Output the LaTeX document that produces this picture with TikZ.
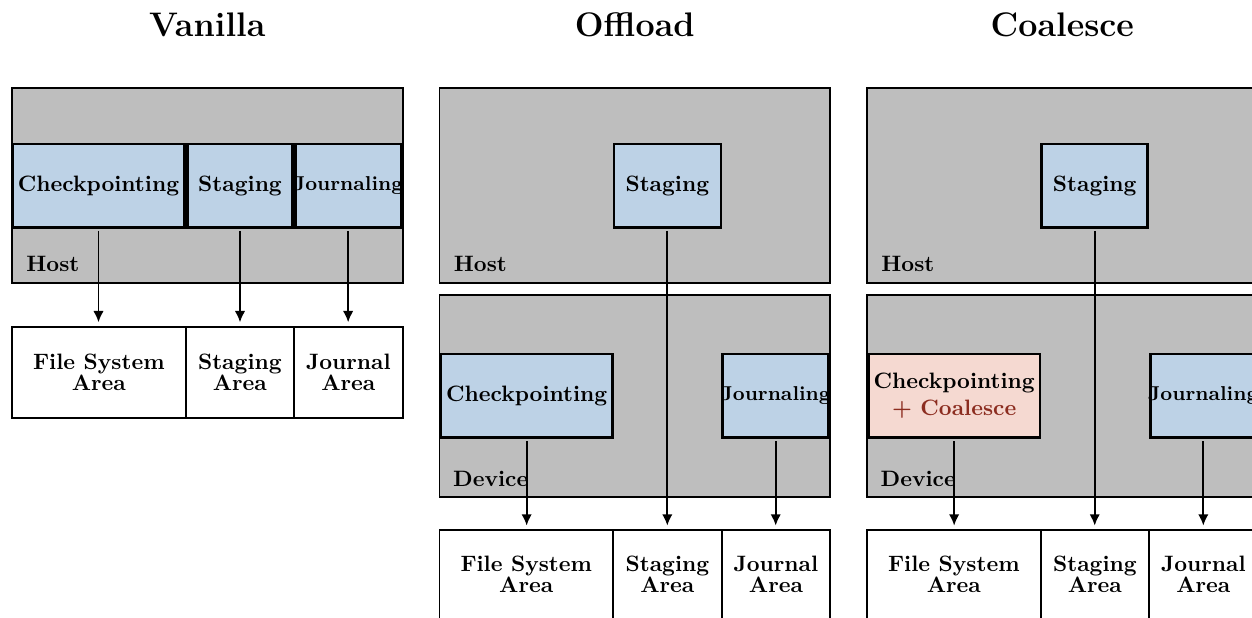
\documentclass[tikz,border=0pt]{standalone}
\usetikzlibrary{fit,arrows.meta}
\definecolor{boxgray}{RGB}{190,190,190}
\definecolor{boxblue}{RGB}{189,210,230}
\definecolor{boxpink}{RGB}{245,217,209}
\definecolor{cored}{RGB}{140,45,32}
\begin{document}
\begin{tikzpicture}[x=0.458pt,y=-0.458pt,
  every node/.style={font=\fontsize{10.2}{12.3}\selectfont\bfseries},
  area/.style={draw=black, thick, fill=boxgray, inner sep=0pt, fit={#1}},
  proc/.style={draw=black, very thick, fill=boxblue, inner sep=0pt, fit={#1}},
  cproc/.style={draw=black, very thick, fill=boxpink, inner sep=0pt, fit={#1}},
  store/.style={draw=black, thick, fill=white, inner sep=0pt, fit={#1}},
  txt/.style={inner sep=0pt, align=center},
  small/.style={font=\fontsize{9.2}{11}\selectfont\bfseries},
  title/.style={font=\fontsize{15.6}{19}\selectfont\bfseries, anchor=base},
  lbl/.style={anchor=base west, inner sep=0pt},
  arr/.style={line width=0.9pt, -{Latex[length=5.2pt,width=4.8pt]}, shorten <=1pt, shorten >=1.6pt}]
\useasboundingbox (0,0) rectangle (1252,617);
\clip (0,0) rectangle (1252,617);

% titles
\node[title] (tv) at (207.3,36) {Vanilla};
\node[title] (to) at (634.8,36) {Offload};
\node[title] (tc) at (1062.3,36) {Coalesce};

% ---------------- Vanilla ----------------
\node[area={(12,88.3) (402.7,283.3)}] (vhost) {};
\node[proc={(12.7,144) (184.3,227.3)}] (vck) {};
\node[proc={(187.3,144) (292.7,227.3)}] (vst) {};
\node[proc={(295.3,144) (401,227.3)}] (vjo) {};
\node[txt] (vckt) at (vck.center) {Checkpointing};
\node[txt] (vstt) at (vst.center) {Staging};
\node[txt, small] (vjot) at (vjo.center) {Journaling};
\node[lbl] (vhl) at (26,271.7) {Host};
\node[store={(12,326.7) (185.7,418.3)}] (vfs) {};
\node[store={(185.7,326.7) (294,418.3)}] (vsa) {};
\node[store={(294,326.7) (402.7,418.3)}] (vja) {};
\node[txt] (vfst) at (vfs.center) {File System\\[-2.8pt]Area};
\node[txt] (vsat) at (vsa.center) {Staging\\[-2.8pt]Area};
\node[txt] (vjat) at (vja.center) {Journal\\[-2.8pt]Area};
\draw[arr] (vck.south) -- (vck.south |- vfs.north);
\draw[arr] (vst.south) -- (vst.south |- vsa.north);
\draw[arr] (vjo.south) -- (vjo.south |- vja.north);

% ---------------- Offload ----------------
\node[area={(439.5,88.3) (830.2,283.3)}] (ohost) {};
\node[proc={(613.8,144) (720.8,227.3)}] (ost) {};
\node[txt] (ostt) at (ost.center) {Staging};
\node[lbl] (ohl) at (453.5,271.7) {Host};
\node[area={(439.5,295) (830.2,497.3)}] (odev) {};
\node[proc={(441,354) (612.3,437.7)}] (ock) {};
\node[proc={(722.7,354) (828.7,437.7)}] (ojo) {};
\node[txt] (ockt) at (ock.center) {Checkpointing};
\node[txt, small] (ojot) at (ojo.center) {Journaling};
\node[lbl] (odl) at (452.7,486) {Device};
\node[store={(439.5,530) (613,619)}] (ofs) {};
\node[store={(613,530) (721.7,619)}] (osa) {};
\node[store={(721.7,530) (830.2,619)}] (oja) {};
\node[txt] (ofst) at (ofs.center) {File System\\[-2.8pt]Area};
\node[txt] (osat) at (osa.center) {Staging\\[-2.8pt]Area};
\node[txt] (ojat) at (oja.center) {Journal\\[-2.8pt]Area};
\draw[arr] (ock.south) -- (ock.south |- ofs.north);
\draw[arr] (ost.south) -- (ost.south |- osa.north);
\draw[arr] (ojo.south) -- (ojo.south |- oja.north);

% ---------------- Coalesce ----------------
\node[area={(867,88.3) (1257.7,283.3)}] (chost) {};
\node[proc={(1041.7,144) (1147.7,227.3)}] (cst) {};
\node[txt] (cstt) at (cst.center) {Staging};
\node[lbl] (chl) at (881,271.7) {Host};
\node[area={(867,295) (1257.7,497.3)}] (cdev) {};
\node[cproc={(868.3,354) (1040,437.7)}] (cck) {};
\node[proc={(1150.3,354) (1256.3,437.7)}] (cjo) {};
\node[txt] (cckt) at (cck.center) {Checkpointing\\\textcolor{cored}{+ Coalesce}};
\node[txt, small] (cjot) at (cjo.center) {Journaling};
\node[lbl] (cdl) at (880.2,486) {Device};
\node[store={(867,530) (1040.7,619)}] (cfs) {};
\node[store={(1040.7,530) (1149,619)}] (csa) {};
\node[store={(1149,530) (1257.7,619)}] (cja) {};
\node[txt] (cfst) at (cfs.center) {File System\\[-2.8pt]Area};
\node[txt] (csat) at (csa.center) {Staging\\[-2.8pt]Area};
\node[txt] (cjat) at (cja.center) {Journal\\[-2.8pt]Area};
\draw[arr] (cck.south) -- (cck.south |- cfs.north);
\draw[arr] (cst.south) -- (cst.south |- csa.north);
\draw[arr] (cjo.south) -- (cjo.south |- cja.north);
\end{tikzpicture}
\end{document}
